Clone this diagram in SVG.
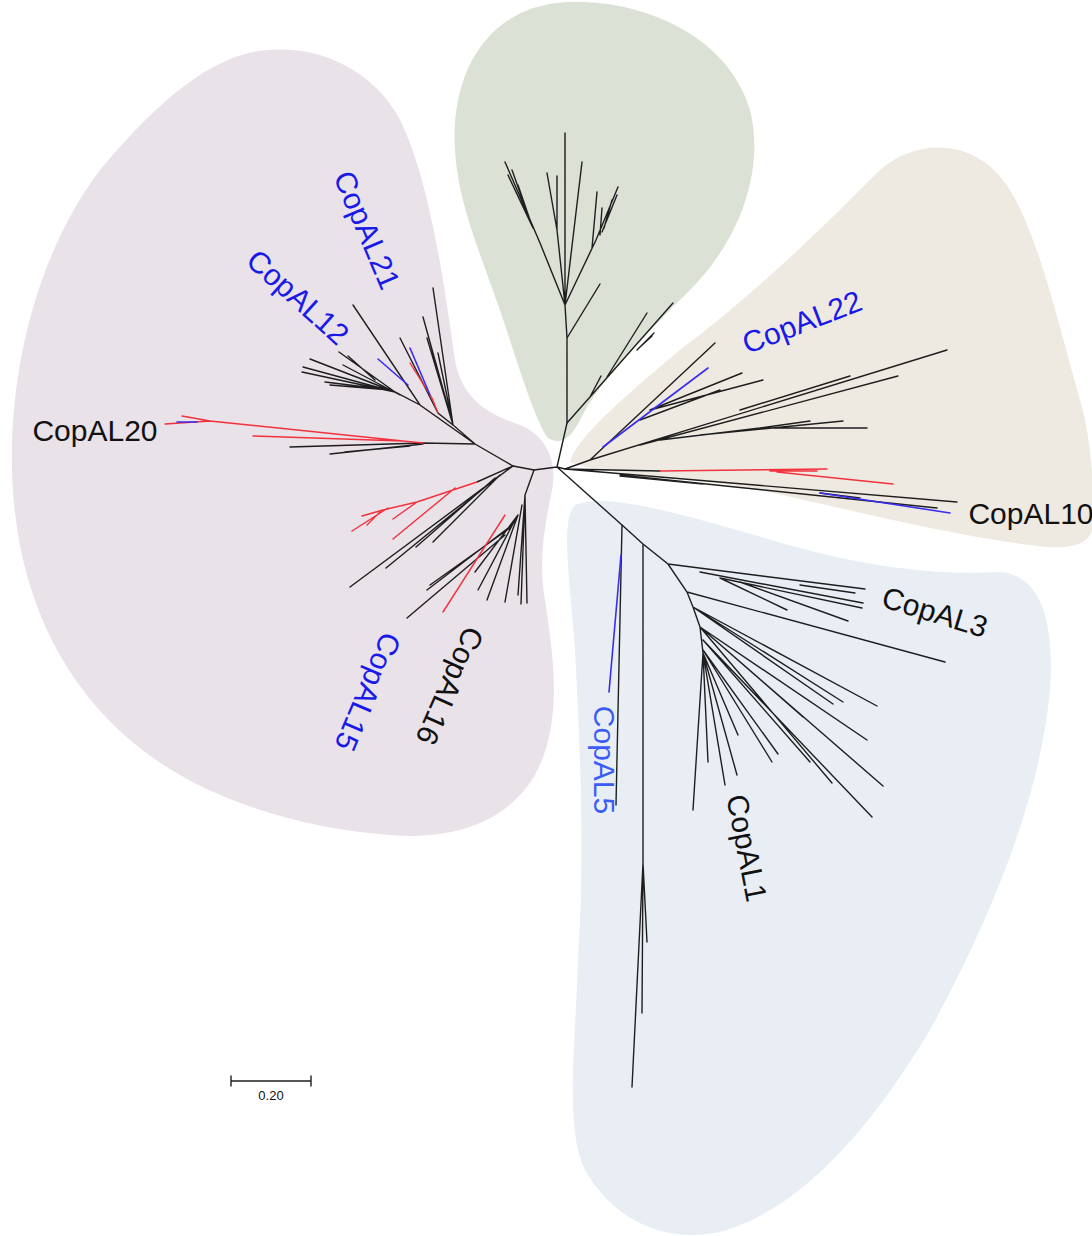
<svg xmlns="http://www.w3.org/2000/svg" width="1092" height="1236" viewBox="0 0 1092 1236">
<style>
.bg{stroke:none}
.k{fill:none;stroke:#1e1e1e;stroke-width:1.4;stroke-linecap:round}
.r{fill:none;stroke:#f2313c;stroke-width:1.4;stroke-linecap:round}
.u{fill:none;stroke:#3a2cf0;stroke-width:1.6;stroke-linecap:round}
.lab{font-family:"Liberation Sans",Arial,sans-serif;font-size:30px;text-anchor:middle}
.lb{fill:#1a1ae8}
.lk{fill:#111}
</style>
<rect width="1092" height="1236" fill="#ffffff"/>
<g id="clades-bg">
<path class="bg" fill="#e9e2e9" d="M270,50 C330,45 380,80 400,120 C430,180 445,290 455,360 C462,400 490,415 520,425 C545,435 558,460 552,490 C545,525 538,560 545,600 C552,650 565,720 535,775 C505,825 450,840 390,835 C300,828 200,800 130,740 C60,680 15,590 12,470 C10,360 40,250 100,170 C150,110 210,52 270,50 Z"/>
<path class="bg" fill="#dbe1d5" d="M455,150 C450,70 490,4 570,2 C650,0 730,40 750,110 C765,170 740,240 690,290 C640,340 600,380 580,420 C570,440 560,445 548,438 C535,420 520,370 500,310 C475,240 458,200 455,150 Z"/>
<path class="bg" fill="#eeeae1" d="M570,462 C575,440 620,400 680,350 C760,290 830,220 880,170 C920,135 980,140 1010,190 C1040,240 1060,330 1080,400 C1092,440 1095,500 1092,530 C1088,548 1060,550 1030,545 C950,535 850,510 760,490 C680,475 600,475 570,462 Z"/>
<path class="bg" fill="#e9eef5" d="M575,505 C610,490 700,520 800,548 C880,570 950,575 1000,572 C1040,575 1055,620 1050,690 C1040,800 990,920 930,1030 C870,1130 800,1210 720,1232 C660,1245 610,1215 585,1170 C565,1130 575,1050 578,960 C585,850 580,750 575,650 C570,580 560,520 575,505 Z"/>
</g>
<g id="connectors">
<path class="k" d="M557,467 L534,470 L513,466 M557,467 L567,423 M557,467 L565,469 M557,467 L622,525"/>
<path class="k" d="M567,423 L567,338 L565,305 M567,338 L600,284 M567,423 L673,303 M590,397 L601,376 M607,377 L647,313 M637,350 L654,333 M640,347 L652,336 M565,305 L565,133 M565,305 L557,230 L547,173 M557,230 L557,176 M565,305 L582,162 M565,305 L596,240 L618,187 M592,248 L597,192 M600,235 L602,208 M602,232 L617,195 M604,228 L612,200 M565,305 L540,243 L528,215 L505,162 M528,215 L512,170 M530,220 L518,185 M533,228 L508,175"/>
<path class="k" d="M513,466 L475,444 L453,425 L433,288 M453,425 L423,317 M453,425 L427,338 M453,425 L438,353 M453,425 L438,413 L400,338 M475,444 L420,405 L353,305 M420,405 L395,392 L310,359 M395,392 L302,372 M395,392 L303,367 M390,390 L325,382 M390,390 L330,385 M395,392 L339,352 M400,395 L343,365 M375,380 L348,356 M475,444 L423,443 L290,447 M423,444 L330,454 M410,446 L345,452"/>
<path class="k" d="M513,466 L477,482 M513,466 L350,587 M500,475 L386,568 M495,478 L416,547 M497,478 L433,542 M534,470 L525,495 L527,603 M525,495 L521,604 M525,495 L518,595 M522,505 L505,602 M518,515 L487,600 M515,520 L478,590 M518,515 L475,572 M512,525 L427,590 M505,535 L407,618 M510,528 L430,585"/>
<path class="r" d="M477,482 L417,502 L383,510 L362,516 M455,488 L393,539 M417,502 L393,519 M388,508 L352,531 M380,512 L367,525 M505,515 L443,612 M423,443 L403,441 L253,436 M403,441 L210,421 L165,424 M210,421 L182,416 M438,413 L432,398 L410,363"/>
<path class="u" d="M197,422 L177,422 M430,395 L410,348 M408,385 L378,359"/>
<path class="k" d="M565,469 L957,502 M620,475 L937,508 M820,493 L860,498 M565,469 L660,471 M620,476 L703,484 M565,469 L590,460 L947,350 M640,445 L898,376 M740,410 L850,376 M660,440 L760,428 L867,428 M700,435 L843,421 M760,428 L810,421 M590,460 L715,343 M650,410 L742,373 M650,410 L763,380 M640,420 L720,390"/>
<path class="r" d="M660,471 L827,469 M770,471 L817,471 M777,472 L893,484"/>
<path class="u" d="M820,493 L950,513 M603,447 L708,368"/>
<path class="k" d="M622,525 L643,544 L668,564 L687,592 L693,607 L700,627 L703,653 M622,525 L616,805 M643,544 L643,863 L647,942 M643,863 L642,1013 M643,863 L632,1087 M668,564 L865,589 M700,572 L863,603 M720,578 L862,608 M740,582 L848,621 M720,578 L787,610 M800,585 L855,593 M687,592 L945,662 M693,607 L877,706 M700,627 L867,740 M700,627 L883,786 M703,640 L872,817 M700,627 L832,783 M703,640 L810,762 M703,650 L778,754 M703,650 L772,762 M703,653 L738,735 M703,653 L725,785 M703,653 L737,775 M703,653 L708,762 M703,653 L693,810 M693,607 L843,702 M693,607 L833,704 M700,627 L803,717"/>
<path class="u" d="M621,555 L609,692"/>
</g>
<g id="labels">
<text class="lab lb" transform="translate(367,230) rotate(67)" dy="0.35em">CopAL21</text>
<text class="lab lb" transform="translate(298,297) rotate(42)" dy="0.35em">CopAL12</text>
<text class="lab lk" transform="translate(95,430)" dy="0.35em">CopAL20</text>
<text class="lab lb" transform="translate(368,692) rotate(113)" dy="0.35em">CopAL15</text>
<text class="lab lk" transform="translate(450,686) rotate(114)" dy="0.35em">CopAL16</text>
<text class="lab" fill="#3b5cf5" transform="translate(604,760) rotate(90)" dy="0.35em">CopAL5</text>
<text class="lab lk" transform="translate(747,848) rotate(79)" dy="0.35em">CopAL1</text>
<text class="lab lk" transform="translate(935,612) rotate(17)" dy="0.35em">CopAL3</text>
<text class="lab lb" transform="translate(802,322) rotate(-21)" dy="0.35em">CopAL22</text>
<text class="lab lk" transform="translate(1031,513)" dy="0.35em">CopAL10</text>
</g>
<g id="scale">
<path class="k" d="M231,1081 L311,1081 M231,1076 L231,1086 M311,1076 L311,1086"/>
<text x="271" y="1100" font-family="Liberation Sans,Arial,sans-serif" font-size="13" text-anchor="middle" fill="#111">0.20</text>
</g>
</svg>
